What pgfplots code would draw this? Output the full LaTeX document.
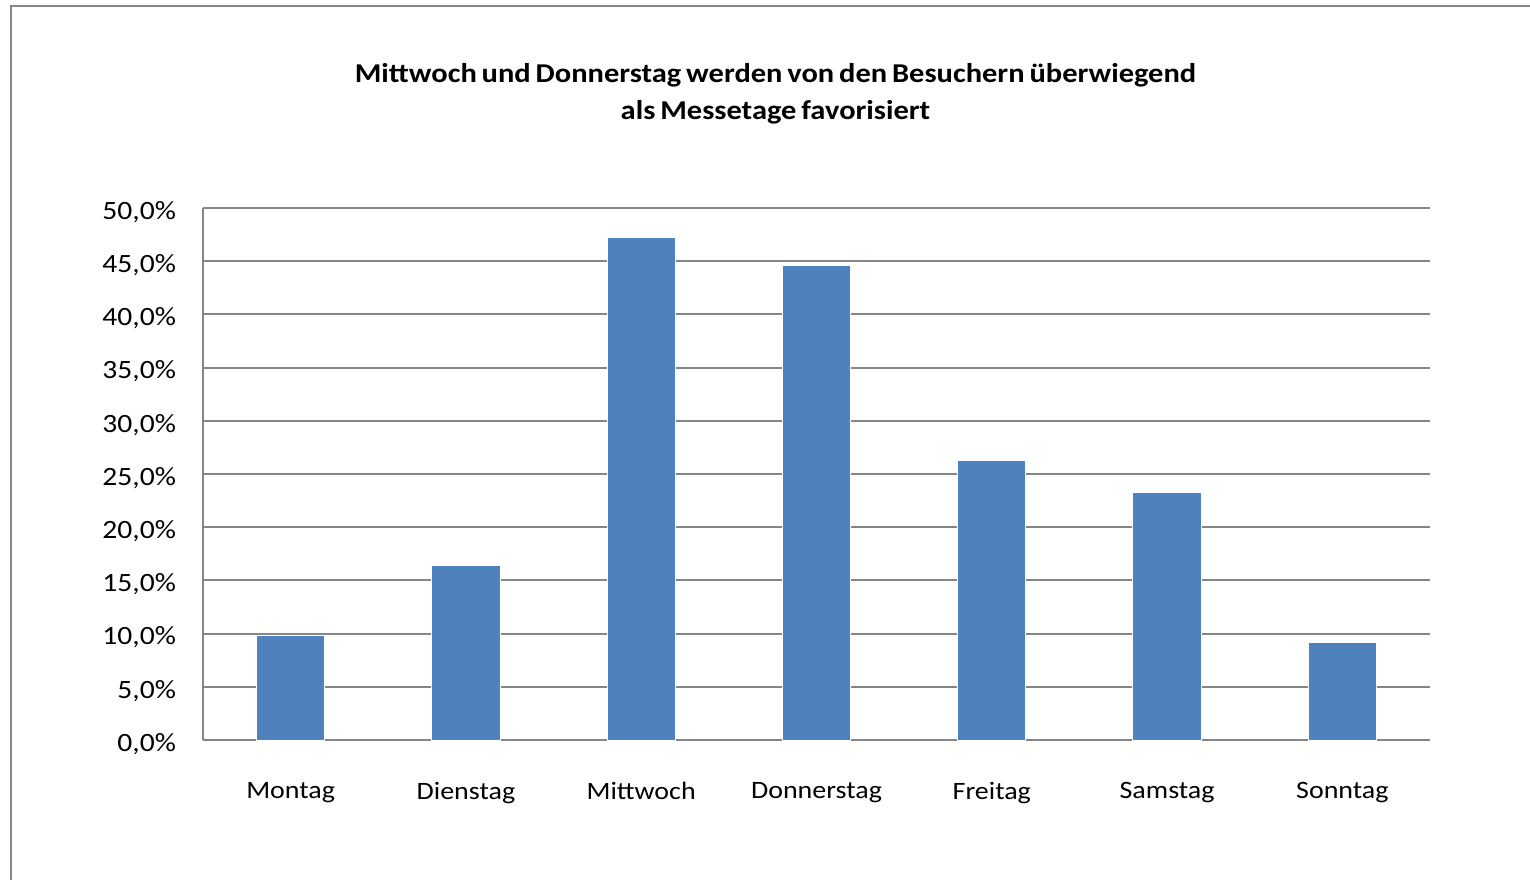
\documentclass[border=0pt]{standalone}
\usepackage{fontspec}
\setmainfont{Carlito}[FakeStretch=1.12]
\usepackage{pgfplots}
\pgfplotsset{compat=1.18}
\definecolor{barblue}{HTML}{4F81BD}
\definecolor{gridgray}{HTML}{868686}
\newcommand\tightspace{\spaceskip=0.18em\relax}
\begin{document}
\begin{tikzpicture}[x=1pt,y=1pt]
\path[use as bounding box] (0,0) rectangle (765,439.5);
\draw[gridgray, line width=1pt] (5.5,-2) -- (5.5,436.5) -- (767,436.5);
\node[align=center, font=\fontsize{13.6}{18.5}\selectfont\bfseries] at (387.75,392.5)
  {\tightspace Mittwoch und Donnerstag werden von den Besuchern überwiegend\\\tightspace als Messetage favorisiert};
\begin{axis}[
    at={(101.5pt,69.5pt)}, anchor=south west,
    scale only axis, width=613.5pt, height=266pt,
    xmin=-0.5, xmax=6.5, ymin=0, ymax=50,
    axis x line*=bottom, axis y line*=left,
    axis line style={gridgray, line width=1pt, -},
    major tick length=0pt,
    xtick=data,
    xticklabels={Montag,Dienstag,Mittwoch,Donnerstag,Freitag,Samstag,Sonntag},
    ytick={0,5,...,50},
    yticklabels={0{,}0\%,5{,}0\%,10{,}0\%,15{,}0\%,20{,}0\%,25{,}0\%,30{,}0\%,35{,}0\%,40{,}0\%,45{,}0\%,50{,}0\%},
    ymajorgrids,
    grid style={gridgray, line width=1pt},
    yticklabel style={font=\fontsize{13.2}{15}\selectfont, xshift=-10pt, yshift=-2pt},
    xticklabel style={font=\fontsize{12.5}{15}\selectfont, yshift=-17.5pt},
    ybar, bar width=0.39,
]
\addplot[fill=barblue, draw=white, line width=0.5pt] coordinates {
    (0,9.8) (1,16.4) (2,47.2) (3,44.6) (4,26.3) (5,23.3) (6,9.2)
};
\end{axis}
\end{tikzpicture}
\end{document}
